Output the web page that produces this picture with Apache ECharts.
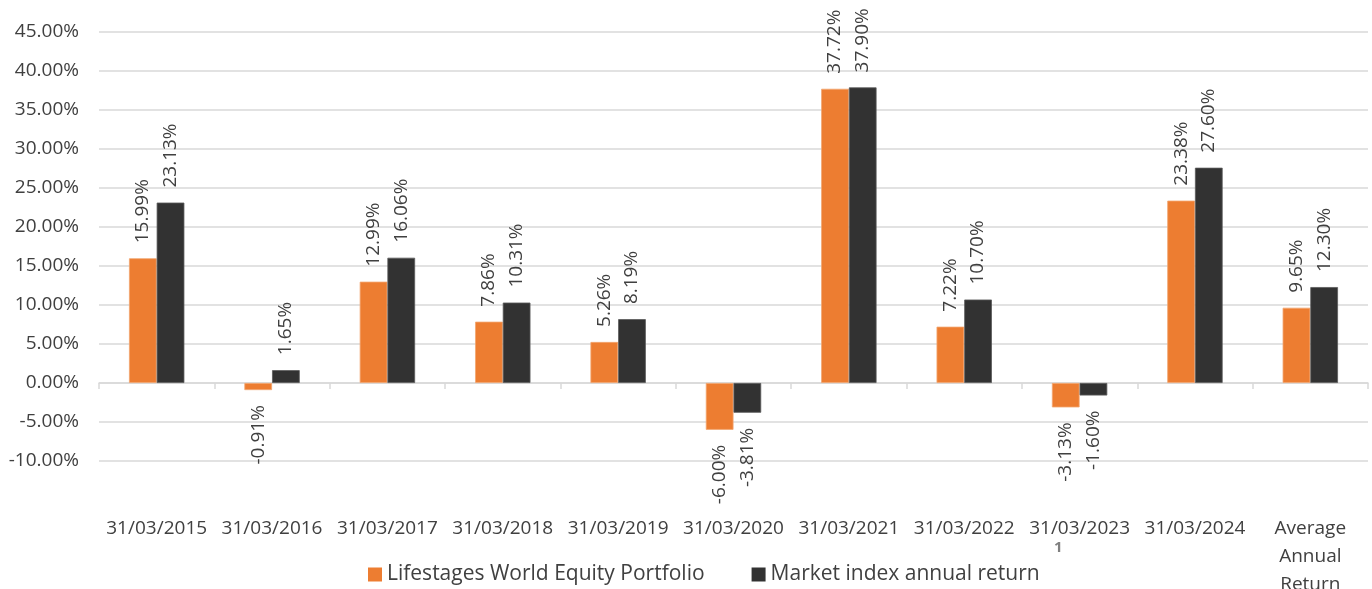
<!DOCTYPE html>
<html>
<head>
<meta charset="utf-8">
<script src="https://cdn.jsdelivr.net/npm/echarts@6/dist/echarts.min.js"></script>
<style>
  html, body { margin: 0; padding: 0; background: #fff; }
  #chart { width: 1372px; height: 589px; }
</style>
</head>
<body>
<div id="chart"></div>
<script>
// 数据
const categories = ["31/03/2015", "31/03/2016", "31/03/2017", "31/03/2018", "31/03/2019",
  "31/03/2020", "31/03/2021", "31/03/2022", "31/03/2023", "31/03/2024", "Average\nAnnual\nReturn"];
const portfolioName = "Lifestages World Equity Portfolio";
const marketName = "Market index annual return";
const portfolio = [15.99, -0.91, 12.99, 7.86, 5.26, -6.00, 37.72, 7.22, -3.13, 23.38, 9.65];
const market = [23.13, 1.65, 16.06, 10.31, 8.19, -3.81, 37.90, 10.70, -1.60, 27.60, 12.30];

const FONT = "Open Sans";
const TEXT = "#404040";

(function () {
  let myChart = echarts.init(document.getElementById("chart"));

  // 负值标签放在柱子下方
  function withLabels(arr) {
    return arr.map(function (v) {
      if (v < 0) {
        return { value: v, label: { position: "bottom", align: "right" } };
      }
      return v;
    });
  }

  let barLabel = {
    show: true,
    position: "top",
    rotate: 90,
    align: "left",
    verticalAlign: "middle",
    distance: 15,
    color: TEXT,
    fontFamily: FONT,
    fontSize: 19,
    formatter: function (p) { return p.value.toFixed(2) + "%"; },
  };

  let option = {
    animation: false,
    color: ["#ED7D31", "#323232"],
    textStyle: { fontFamily: FONT },
    grid: { left: 99, right: 4, top: 32, bottom: 128, outerBoundsMode: "none" },
    legend: {
      left: 363,
      top: 559,
      itemWidth: 14,
      itemHeight: 14,
      itemGap: 47,
      icon: "rect",
      itemStyle: { borderWidth: 0 },
      textStyle: { color: TEXT, fontFamily: FONT, fontSize: 21, padding: [0, 0, 0, 0] },
      data: [portfolioName, marketName],
    },
    xAxis: [
      {
        type: "category",
        data: categories,
        axisLine: { onZero: true, lineStyle: { color: "#d9d9d9", width: 1.5 } },
        axisTick: { show: true, length: 6, lineStyle: { color: "#d9d9d9", width: 1.5 } },
        axisLabel: { show: false },
      },
      {
        type: "category",
        data: categories,
        position: "bottom",
        axisLine: { show: false, onZero: false },
        axisTick: { show: false },
        axisLabel: {
          margin: 54,
          color: TEXT,
          fontFamily: FONT,
          fontSize: 19,
          lineHeight: 28,
          interval: 0,
          verticalAlign: "top",
        },
      },
    ],
    yAxis: {
      type: "value",
      min: -10,
      max: 45,
      interval: 5,
      axisLine: { show: false },
      axisTick: { show: false },
      axisLabel: {
        margin: 20,
        color: TEXT,
        fontFamily: FONT,
        fontSize: 19,
        formatter: function (v) { return v.toFixed(2) + "%"; },
      },
      splitLine: { lineStyle: { color: "#d9d9d9", width: 1.5 } },
    },
    series: [
      {
        name: portfolioName,
        type: "bar",
        barGap: 0,
        barCategoryGap: "52%",
        data: withLabels(portfolio),
        label: barLabel,
        itemStyle: { borderColor: "#f2a670", borderWidth: 0.8 },
      },
      {
        name: marketName,
        type: "bar",
        barGap: 0,
        barCategoryGap: "52%",
        data: withLabels(market),
        label: barLabel,
        itemStyle: { borderColor: "#5a5a5a", borderWidth: 0.8 },
      },
    ],
    graphic: [
      {
        type: "text",
        left: 1054,
        top: 540,
        style: { text: "1", fill: "#808080", font: "bold 15px 'Open Sans'" },
      },
    ],
  };

  myChart.setOption(option);
  window.addEventListener("resize", function () {
    myChart.resize();
  });
})();
</script>
</body>
</html>
